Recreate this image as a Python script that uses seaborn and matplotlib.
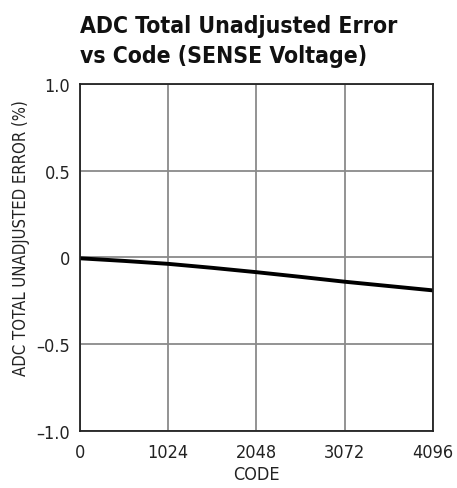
import numpy as np
import matplotlib
matplotlib.use("Agg")
import matplotlib.pyplot as plt
import seaborn as sns
import pandas as pd

# data
code = [0, 512, 1024, 1536, 2048, 2560, 3072, 3584, 4096]
error_pct = [-0.005, -0.02, -0.037, -0.06, -0.085, -0.112, -0.14, -0.165, -0.19]

x_ticks = [0, 1024, 2048, 3072, 4096]
x_ticklabels = ["0", "1024", "2048", "3072", "4096"]
y_ticks = [-1.0, -0.5, 0, 0.5, 1.0]
y_ticklabels = ["\u20131.0", "\u20130.5", "0", "0.5", "1.0"]
title_lines = ["ADC Total Unadjusted Error", "vs Code (SENSE Voltage)"]

sns.set_style("white")
plt.rcParams["font.family"] = ["DejaVu Sans"]
plt.rcParams["font.stretch"] = "condensed"

df = pd.DataFrame({"code": code, "error": error_pct})

fig = plt.figure(figsize=(4.57, 4.89), dpi=100)
ax = fig.add_axes([0.175, 0.117, 0.772, 0.709])

sns.lineplot(data=df, x="code", y="error", ax=ax, color="black", linewidth=2.8)

ax.set_xlim(0, 4096)
ax.set_ylim(-1.0, 1.0)
ax.set_xticks(x_ticks)
ax.set_xticklabels(x_ticklabels)
ax.set_yticks(y_ticks)
ax.set_yticklabels(y_ticklabels)
ax.tick_params(length=0, labelsize=13, colors="#222222")
ax.tick_params(axis="x", pad=9)
ax.tick_params(axis="y", pad=7)

ax.grid(True, color="#8a8a8a", linewidth=1.3)
ax.set_axisbelow(True)
for s in ax.spines.values():
    s.set_color("#222222")
    s.set_linewidth(1.3)

ax.set_xlabel("CODE", fontsize=13, color="#222222", labelpad=3)
ax.set_ylabel("ADC TOTAL UNADJUSTED ERROR (%)", fontsize=12, color="#222222")
ax.yaxis.set_label_coords(-0.142, 0.56)

fig.text(0.175, 0.9325, title_lines[0], fontsize=16.5, fontweight="bold",
         color="#111111", ha="left", va="baseline")
fig.text(0.175, 0.871, title_lines[1], fontsize=16.5, fontweight="bold",
         color="#111111", ha="left", va="baseline")

fig.savefig("out.png", dpi=100)
